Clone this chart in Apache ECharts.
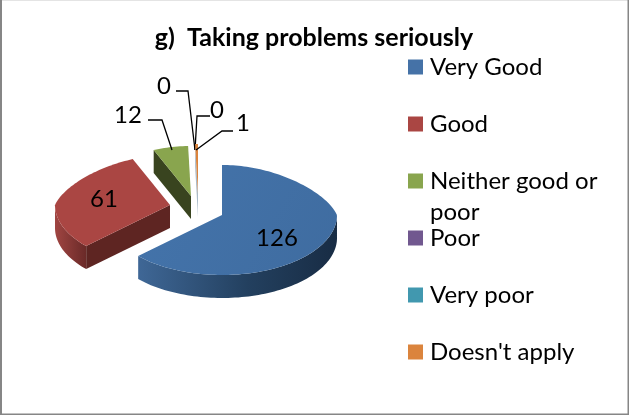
<!DOCTYPE html>
<html><head><meta charset="utf-8">
<style>html,body{margin:0;padding:0;background:#fff}#c{width:629px;height:416px}</style>
<script src="https://cdn.jsdelivr.net/npm/echarts@6/dist/echarts.min.js"></script>
</head><body><div id="c"></div>
<script>
const titleText = 'g)  Taking problems seriously';
const categories = ['Very Good','Good','Neither good or poor','Poor','Very poor',"Doesn't apply"];
const values = [126,61,12,0,0,1];
const colors = ['#4572A7','#AA4643','#89A54E','#71588F','#4198AF','#DB843D'];
const wallLeft = ['#3f6796','#a04542','#56682f','#5a4672','#34798c','#f0b080'];
const wallRight = ['#182c44','#6a2a28','#3a4520','#3b2e4b','#225060','#c9d3dc'];
const cutFace = ['#2c4a6e','#5e2522','#39441f','#3b2e4b','#225060','#a9bac9'];
const apexX = [222,170,191,198,198,198];
const apexY = [215,205,196,194,194,194];
const radiusX = 115, radiusBack = 50, radiusFront = 60, depth = 23, backNarrow = 0.2;
const labelX = [277,104,128,164,217,243];
const labelY = [238,199,115,86,110,123];
const leaderX = [null,null,[148,162,172],[176,188,195],[210,197,195],[233,222,196]];
const leaderY = [null,null,[120,120,150],[91,91,150],[116,116,150],[131,131,150]];
const total = values.reduce((a,b)=>a+b,0);
const startOf = values.map((v,i)=>values.slice(0,i).reduce((a,b)=>a+b,0)/total*Math.PI*2);

function renderSlice(idx){
  return function(params, api){
    const v = api.value(0), children = [];
    const ax = apexX[idx], ay = apexY[idx];
    if (v > 0){
      const a0 = startOf[idx], a1 = a0 + v/total*Math.PI*2;
      const pt = (a,dy)=>{
        const c = Math.cos(a);
        return [ax+Math.sin(a)*radiusX*(1-backNarrow*Math.max(0,c)), ay-c*(c>0?radiusBack:radiusFront)+(dy||0)];
      };
      const arc = [], n = Math.max(2,Math.ceil((a1-a0)/0.03));
      for(let i=0;i<=n;i++) arc.push(a0+(a1-a0)*i/n);
      if (idx===0){
        const wb = arc.filter(a=>a>=Math.PI/2);
        const top = wb.map(a=>pt(a)), bot = wb.map(a=>pt(a,depth)).reverse();
        children.push({type:'polygon',shape:{points:top.concat(bot)},style:{
          fill:new echarts.graphic.LinearGradient(1,0,0,0,[{offset:0,color:wallRight[0]},{offset:0.45,color:'#23405f'},{offset:1,color:wallLeft[0]}])}});
      } else {
        const wa = arc.filter(a=>a>=Math.PI/2 && a<=Math.PI*1.5);
        if (wa.length>1){
          const top = wa.map(a=>pt(a)), bot = wa.map(a=>pt(a,depth)).reverse();
          children.push({type:'polygon',shape:{points:top.concat(bot)},style:{
            fill:new echarts.graphic.LinearGradient(0,0,1,0,[{offset:0,color:wallLeft[idx]},{offset:1,color:wallRight[idx]}])}});
        }
        const q = pt(a0);
        children.push({type:'polygon',shape:{points:[[ax,ay],q,[q[0],q[1]+depth],[ax,ay+depth]]},style:{fill:cutFace[idx]}});
      }
      const faceFill = idx===0 ? new echarts.graphic.LinearGradient(0,0,1,1,[{offset:0,color:'#4474ab'},{offset:1,color:'#3f6ca0'}]) : colors[idx];
      children.push({type:'polygon',shape:{points:[[ax,ay]].concat(arc.map(a=>pt(a)))},style:{fill:faceFill}});
    }
    if (leaderX[idx]){
      children.push({type:'polyline',shape:{points:leaderX[idx].map((x,i)=>[x,leaderY[idx][i]])},style:{fill:null,stroke:'#000',lineWidth:1.3},z2:20});
    }
    children.push({type:'text',style:{text:String(v),x:labelX[idx],y:labelY[idx],align:'center',verticalAlign:'middle',font:'24px Lato',fill:'#000'},z2:30});
    return {type:'group',children};
  };
}

const order = [1,2,3,4,5,0];
const frameColor = '#868686';
const chart = echarts.init(document.getElementById('c'),null,{renderer:'canvas'});
chart.setOption({
  animation:false,
  backgroundColor:'#fff',
  title:{text:titleText,left:309,top:20,textAlign:'center',textStyle:{fontFamily:'Lato',fontWeight:'bold',fontSize:25,color:'#000'}},
  legend:{
    orient:'vertical',left:403,top:50,height:350,itemWidth:15,itemHeight:15,itemGap:33,icon:'rect',
    data:categories,
    formatter:n=>n==='Neither good or poor'?'Neither good or':n,
    textStyle:{fontFamily:'Lato',fontSize:24,color:'#000',lineHeight:15,padding:[0,0,0,2]},
    selectedMode:false
  },
  graphic:[
    {type:'rect',shape:{x:0,y:0,width:629,height:1},style:{fill:'#e4e4e4'},silent:true},
    {type:'rect',shape:{x:0,y:0,width:2,height:415},style:{fill:frameColor},silent:true},
    {type:'rect',shape:{x:627.5,y:0,width:1.5,height:415},style:{fill:frameColor},silent:true},
    {type:'rect',shape:{x:0,y:413.5,width:629,height:1.5},style:{fill:frameColor},silent:true},
    {type:'text',left:430,top:200,style:{text:'poor',font:'24px Lato',fill:'#000'}}
  ],
  series:categories.map((name,i)=>({
    name,type:'custom',coordinateSystem:'none',
    data:[[values[i]]],
    itemStyle:{color:colors[i]},
    renderItem:renderSlice(i),
    z:order.indexOf(i)+2
  }))
});
</script></body></html>
